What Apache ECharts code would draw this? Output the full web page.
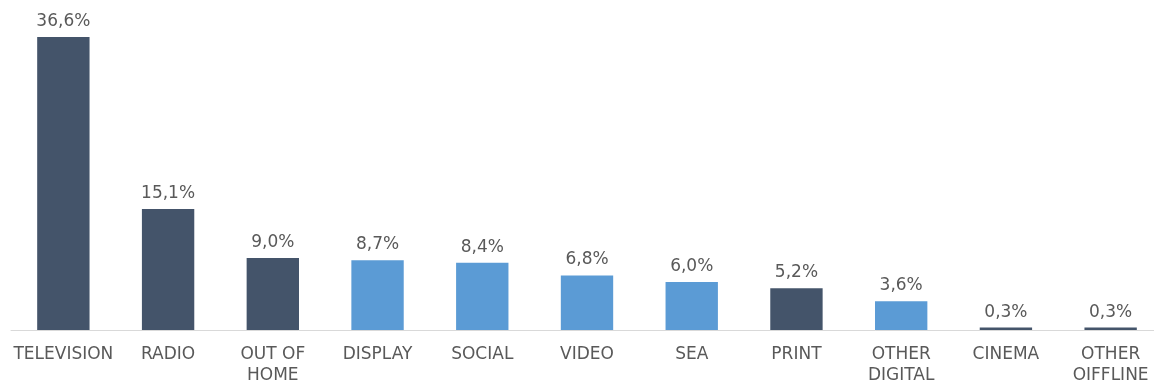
<!DOCTYPE html>
<html>
<head>
<meta charset="utf-8">
<script src="https://cdn.jsdelivr.net/npm/echarts@6/dist/echarts.min.js"></script>
<style>
  html, body { margin: 0; padding: 0; background: #ffffff; overflow: hidden; }
  /* the plot runs slightly past the right edge of the page */
  #chart { width: 1163px; height: 386px; }
</style>
</head>
<body>
<div id="chart"></div>
<script>
// Share of advertising spend by media channel (%)
const categories = ['TELEVISION', 'RADIO', 'OUT OF\nHOME', 'DISPLAY', 'SOCIAL', 'VIDEO', 'SEA', 'PRINT', 'OTHER\nDIGITAL', 'CINEMA', 'OTHER\nOIFFLINE'];
const shares = [36.6, 15.1, 9.0, 8.7, 8.4, 6.8, 6.0, 5.2, 3.6, 0.3, 0.3];
// offline channels are dark slate, digital channels light blue
const isDigital = [false, false, false, true, true, true, true, false, true, false, false];

const DARK = '#44546A';
const BLUE = '#5B9BD5';
const TEXT = '#595959';
const FONT = '"DejaVu Sans", sans-serif';

const chart = echarts.init(document.getElementById('chart'));
chart.setOption({
  animation: false,
  grid: { left: 11, right: 0, top: 37, bottom: 56, containLabel: false },
  xAxis: {
    type: 'category',
    data: categories,
    axisLine: { show: true, lineStyle: { color: '#D9D9D9', width: 1 } },
    axisTick: { show: false },
    axisLabel: {
      color: TEXT, fontFamily: FONT, fontSize: 17, lineHeight: 21,
      margin: 14, interval: 0
    }
  },
  yAxis: {
    type: 'value', min: 0, max: 36.6,
    show: false, splitLine: { show: false }
  },
  series: [{
    type: 'bar',
    barWidth: '50%',
    data: shares.map((v, i) => ({
      value: v,
      itemStyle: { color: isDigital[i] ? BLUE : DARK }
    })),
    label: {
      show: true, position: 'top', distance: 7,
      color: TEXT, fontFamily: FONT, fontSize: 17,
      formatter: p => p.value.toFixed(1).replace('.', ',') + '%'
    }
  }]
});
</script>
</body>
</html>
